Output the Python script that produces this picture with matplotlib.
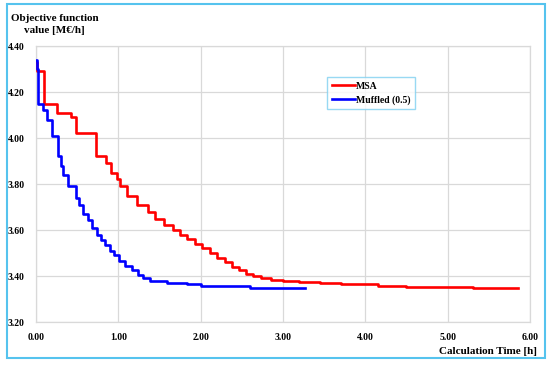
import matplotlib
matplotlib.use('Agg')
import matplotlib.pyplot as plt
from matplotlib.patches import Rectangle

# MSA run (time in hours, objective in M€/h), step curve
msa_t = [0.00, 0.01, 0.10, 0.26, 0.42, 0.48, 0.73, 0.855, 0.91, 0.98, 1.02, 1.11, 1.23, 1.36,
         1.45, 1.56, 1.66, 1.75, 1.84, 1.93, 2.02, 2.11, 2.20, 2.29, 2.38, 2.46, 2.55, 2.64,
         2.73, 2.85, 3.00, 3.20, 3.45, 3.70, 4.15, 4.50, 5.31, 5.85]
msa_v = [4.33, 4.29, 4.15, 4.11, 4.09, 4.02, 3.92, 3.89, 3.85, 3.82, 3.79, 3.75, 3.71, 3.68,
         3.65, 3.62, 3.60, 3.58, 3.56, 3.54, 3.52, 3.50, 3.48, 3.46, 3.44, 3.425, 3.41, 3.40,
         3.39, 3.383, 3.378, 3.373, 3.368, 3.364, 3.357, 3.352, 3.350, 3.350]

# Muffled (0.5) run
muf_t = [0.00, 0.01, 0.03, 0.08, 0.13, 0.19, 0.265, 0.30, 0.33, 0.39, 0.48, 0.52, 0.57, 0.63,
         0.68, 0.74, 0.79, 0.84, 0.90, 0.95, 1.01, 1.08, 1.16, 1.24, 1.30, 1.38, 1.59, 1.83,
         2.00, 2.60, 3.27]
muf_v = [4.34, 4.30, 4.15, 4.12, 4.08, 4.01, 3.92, 3.88, 3.84, 3.79, 3.74, 3.71, 3.67, 3.645,
         3.61, 3.58, 3.557, 3.535, 3.51, 3.49, 3.465, 3.443, 3.425, 3.405, 3.39, 3.377, 3.37, 3.365,
         3.356, 3.349, 3.348]

xticks = [0, 1, 2, 3, 4, 5, 6]
yticks = [3.2, 3.4, 3.6, 3.8, 4.0, 4.2, 4.4]

plt.rcParams['font.family'] = ['Liberation Serif', 'DejaVu Serif']
plt.rcParams['font.weight'] = 'bold'

fig = plt.figure(figsize=(5.5, 3.65), dpi=100)
ax = fig.add_axes([0.0655, 0.1178, 0.898, 0.756])

ax.plot(msa_t, msa_v, color='#FF0000', lw=1.9, drawstyle='steps-post', label='MSA', zorder=3)
ax.plot(muf_t, muf_v, color='#0000FF', lw=1.9, drawstyle='steps-post', label='Muffled (0.5)', zorder=3)

ax.set_xlim(0, 6)
ax.set_ylim(3.2, 4.4)
ax.set_xticks(xticks)
ax.set_yticks(yticks)
ax.set_xticklabels(['%.2f' % v for v in xticks], fontsize=7, fontweight='bold')
ax.set_yticklabels(['%.2f' % v for v in yticks], fontsize=7, fontweight='bold')
ax.tick_params(length=0, pad=8)
ax.grid(True, color='#D9D9D9', lw=0.9)
ax.set_axisbelow(True)
for s in ax.spines.values():
    s.set_color('#D9D9D9')
    s.set_linewidth(0.9)

leg = ax.legend(loc='upper left', bbox_to_anchor=(0.58, 0.904), frameon=True,
                fancybox=False, handlelength=2.4, borderpad=0.45, labelspacing=0.45,
                handletextpad=0.1, prop={'weight': 'bold', 'size': 7})
leg.get_frame().set_edgecolor('#7FD0F0')
leg.get_frame().set_linewidth(1.0)

fig.text(0.099, 0.961, 'Objective function\nvalue [M€/h]', ha='center', va='top',
         fontsize=8, fontweight='bold', linespacing=1.45)
fig.text(0.977, 0.036, 'Calculation Time [h]', ha='right', va='center',
         fontsize=8, fontweight='bold')

fig.patches.append(Rectangle((0.013, 0.019), 0.977, 0.97, transform=fig.transFigure,
                             fill=False, edgecolor='#55C3EE', lw=1.5))

fig.savefig('out.png', dpi=100)
